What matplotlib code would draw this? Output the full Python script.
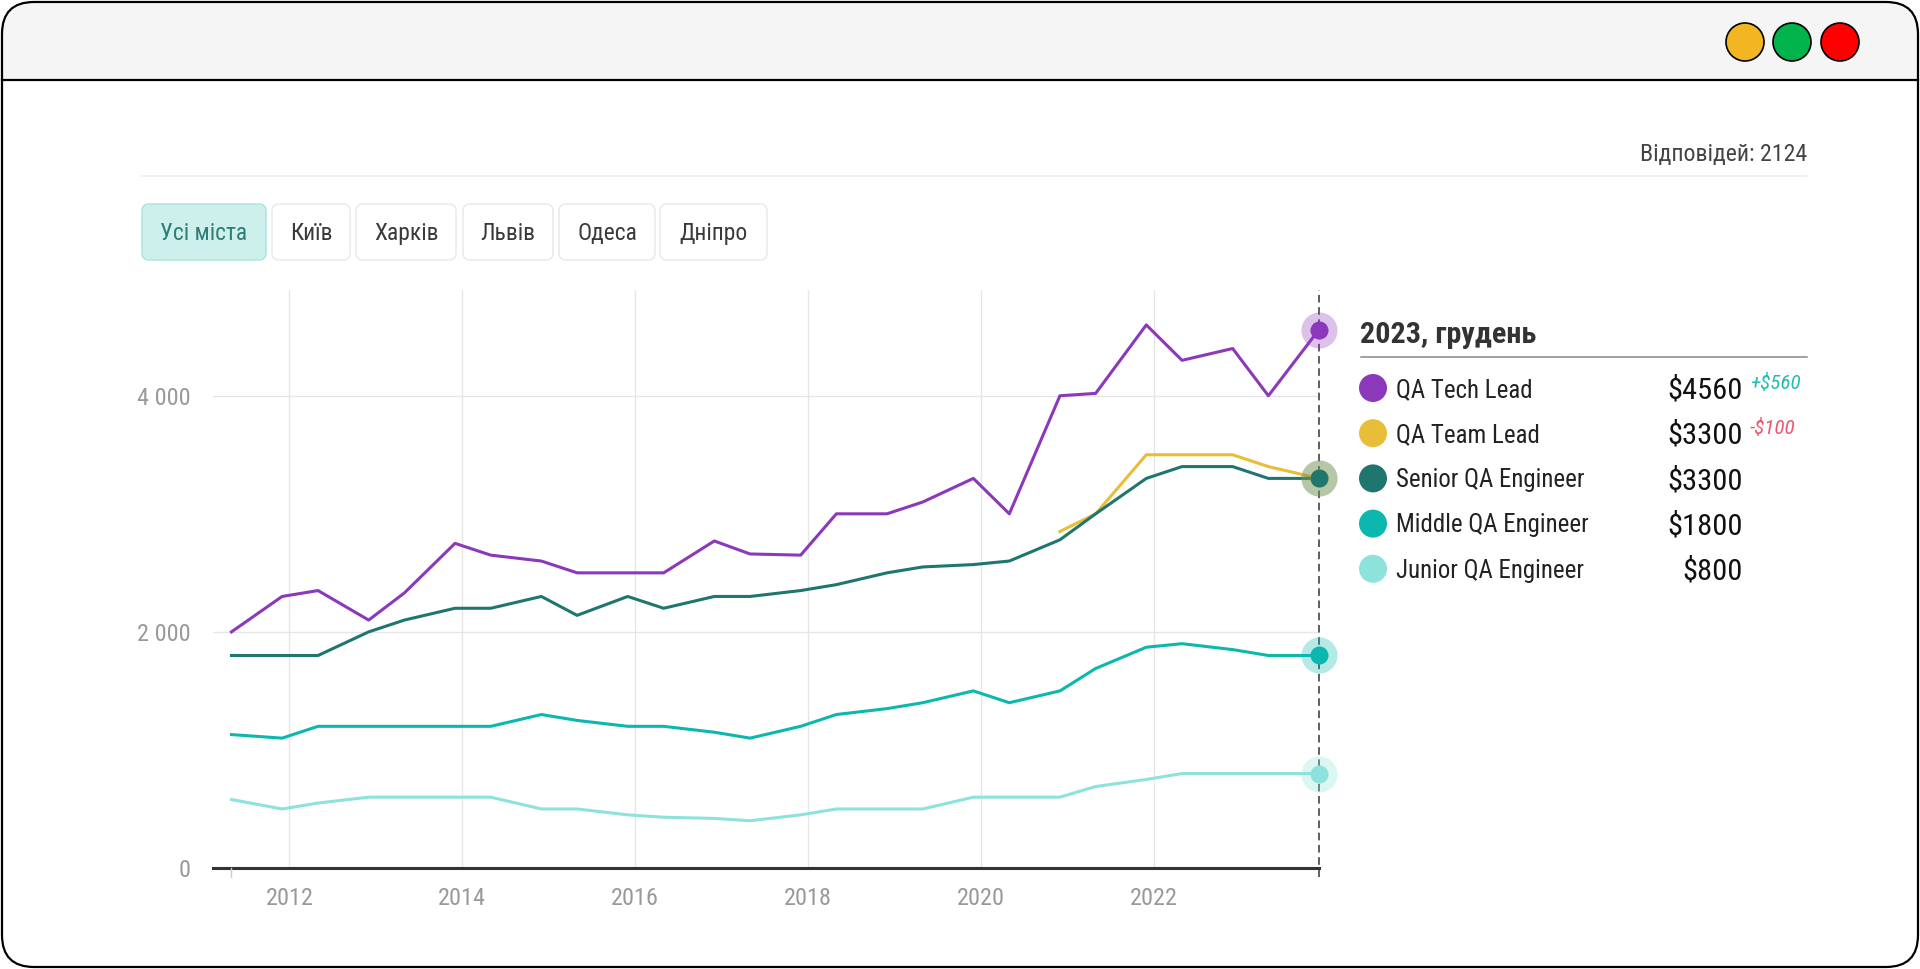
import numpy as np
import pandas as pd
import matplotlib
matplotlib.use('Agg')
import matplotlib.pyplot as plt
import matplotlib.dates as mdates
from matplotlib import font_manager
from matplotlib.patches import FancyBboxPatch, Rectangle, Circle
from matplotlib.ticker import FuncFormatter

# survey dates (May and December of each year)
survey_dates = ['2011-05', '2011-12', '2012-05', '2012-12', '2013-05', '2013-12',
                '2014-05', '2014-12', '2015-05', '2015-12', '2016-05', '2016-12',
                '2017-05', '2017-12', '2018-05', '2018-12', '2019-05', '2019-12',
                '2020-05', '2020-12', '2021-05', '2021-12', '2022-05', '2022-12',
                '2023-05', '2023-12']

# median salaries, $
tech_lead = [2000, 2300, 2350, 2100, 2330, 2750, 2650, 2600, 2500, 2500, 2500, 2770, 2660,
             2650, 3000, 3000, 3100, 3300, 3000, 4000, 4020, 4600, 4300, 4400, 4000, 4560]
team_lead = [np.nan, np.nan, np.nan, np.nan, np.nan, np.nan, np.nan, np.nan, np.nan, np.nan,
             np.nan, np.nan, np.nan, np.nan, np.nan, np.nan, np.nan, np.nan, np.nan,
             2850, 3000, 3500, 3500, 3500, 3400, 3300]
senior = [1800, 1800, 1800, 2000, 2100, 2200, 2200, 2300, 2140, 2300, 2200, 2300, 2300,
          2350, 2400, 2500, 2550, 2570, 2600, 2780, 3000, 3300, 3400, 3400, 3300, 3300]
middle = [1130, 1100, 1200, 1200, 1200, 1200, 1200, 1300, 1250, 1200, 1200, 1150, 1100,
          1200, 1300, 1350, 1400, 1500, 1400, 1500, 1690, 1870, 1900, 1850, 1800, 1800]
junior = [580, 500, 550, 600, 600, 600, 600, 500, 500, 450, 430, 420, 400,
          450, 500, 500, 500, 600, 600, 600, 690, 750, 800, 800, 800, 800]

series_names = ['QA Tech Lead', 'QA Team Lead', 'Senior QA Engineer', 'Middle QA Engineer', 'Junior QA Engineer']
series_values = [tech_lead, team_lead, senior, middle, junior]
series_colors = ['#8b38ba', '#e8bd38', '#1f766e', '#0cb8ad', '#8de2db']

city_buttons = ['Усі міста', 'Київ', 'Харків', 'Львів', 'Одеса', 'Дніпро']
responses = 2124
period_label = '2023, грудень'

# fonts: use condensed Roboto when present
names = {f.name for f in font_manager.fontManager.ttflist}
if 'Roboto Condensed' in names:
    FONT, k = 'Roboto Condensed', 1.13
else:
    FONT, k = 'Roboto', 1.0
plt.rcParams['font.family'] = [FONT, 'DejaVu Sans']

W, H = 1920, 969
fig = plt.figure(figsize=(W / 100, H / 100), dpi=100)

## background / window frame in pixel coords
bg = fig.add_axes([0, 0, 1, 1])
bg.set_xlim(0, W)
bg.set_ylim(H, 0)
bg.axis('off')

frame = FancyBboxPatch((2, 2), W - 4, H - 4, boxstyle='round,pad=0,rounding_size=32',
                       fc='#f5f5f5', ec='none')
bg.add_patch(frame)
body = Rectangle((0, 80), W, H - 80, fc='white', ec='none')
bg.add_patch(body)
body.set_clip_path(frame)
bg.add_patch(FancyBboxPatch((2, 2), W - 4, H - 4, boxstyle='round,pad=0,rounding_size=32',
                            fc='none', ec='black', lw=1.6))
bg.plot([2, W - 2], [80, 80], color='black', lw=1.6)
for cx, c in zip([1745, 1792, 1840], ['#f2b622', '#00b34a', '#ff0000']):
    bg.add_patch(Circle((cx, 42), 19, fc=c, ec='black', lw=1.2))

# header text + separator
bg.text(1807, 161, f'Відповідей: {responses}', ha='right', va='baseline',
        fontsize=15.2 * k, color='#444444')
bg.plot([142, 1807], [176, 176], color='#eeeeee', lw=1.2)

# city buttons
btn_x = [(142, 266), (272, 350), (356, 456), (463, 553), (559, 655), (660, 767)]
for i, (lab, (x0, x1)) in enumerate(zip(city_buttons, btn_x)):
    active = i == 0
    bg.add_patch(FancyBboxPatch((x0, 204), x1 - x0, 56, boxstyle='round,pad=0,rounding_size=7',
                                fc='#cdf0ec' if active else 'white',
                                ec='#a6e3dc' if active else '#e8e8e8', lw=1.0))
    bg.text((x0 + x1) / 2, 232 + 7.5 * k, lab, ha='center', va='baseline', fontsize=15 * k,
            color='#2e7d76' if active else '#3a3a3a')

## chart
dates = pd.to_datetime(survey_dates)
ax = fig.add_axes([213 / W, 1 - 868 / H, (1319 - 213) / W, (868 - 289.5) / H])
ax.patch.set_alpha(0)

draw_order = [4, 3, 1, 2, 0]
for i in draw_order:
    ax.plot(dates, series_values[i], color=series_colors[i], lw=2.2, zorder=3 + i * 0.01 if i else 3.5)

ax.set_xlim(pd.Timestamp('2011-02-12'), dates[-1])
ax.set_ylim(0, 4900)
for s in ax.spines.values():
    s.set_visible(False)
ax.xaxis.set_major_locator(mdates.YearLocator(2))
ax.xaxis.set_major_formatter(mdates.DateFormatter('%Y'))
ax.set_yticks([0, 2000, 4000])
ax.yaxis.set_major_formatter(FuncFormatter(lambda v, p: f'{int(v):,}'.replace(',', ' ')))
ax.tick_params(axis='x', length=0, pad=14, labelsize=15.5 * k, labelcolor='#999999')
ax.tick_params(axis='y', length=0, pad=16, labelsize=15.5 * k, labelcolor='#999999')
ax.grid(color='#e6e6e6', lw=1)
ax.set_axisbelow(True)
ax.axhline(0, color='#333333', lw=2.2, zorder=2, clip_on=False)

# dashed marker line at the last survey + small tick at the first one
ax.plot([dates[-1], dates[-1]], [-0.015, 1], transform=ax.get_xaxis_transform(),
        color='#333333', lw=1.1, ls=(0, (5, 3)), clip_on=False, zorder=2)
ax.plot([dates[0], dates[0]], [-0.015, 0], transform=ax.get_xaxis_transform(),
        color='#cccccc', lw=1, clip_on=False)

# end markers with halos
for i in draw_order:
    ax.plot(dates[-1], series_values[i][-1], 'o', ms=26, color=series_colors[i], alpha=0.3,
            mec='none', clip_on=False, zorder=5)
for i in draw_order:
    ax.plot(dates[-1], series_values[i][-1], 'o', ms=13, color=series_colors[i],
            mec='none', clip_on=False, zorder=6)

## legend panel
bg.text(1360, 333 + 8.5 * k, period_label, ha='left', va='baseline', fontsize=19.2 * k,
        fontweight='bold', color='#333333')
bg.plot([1361, 1807], [357, 357], color='#888888', lw=1.1)
for i, (name, vals, c) in enumerate(zip(series_names, series_values, series_colors)):
    y = 388 + i * 45.2
    bg.add_patch(Circle((1373, y), 14, fc=c, ec='none'))
    bg.text(1396, y + 7.8 * k, name, ha='left', va='baseline', fontsize=15.9 * k, color='#222222')
    bg.text(1743, y + 9.5 * k, f'${vals[-1]:.0f}', ha='right', va='baseline', fontsize=19.4 * k,
            color='#111111')
    delta = vals[-1] - vals[-2]
    if delta != 0:
        txt = f'+${delta:.0f}' if delta > 0 else f'-${-delta:.0f}'
        bg.text(1750, y - 6 + 6.3 * k, txt, ha='left', va='baseline', fontsize=13.5 * k,
                fontstyle='italic', color='#25bdb1' if delta > 0 else '#f0566a')

fig.savefig('out.png', dpi=100)
